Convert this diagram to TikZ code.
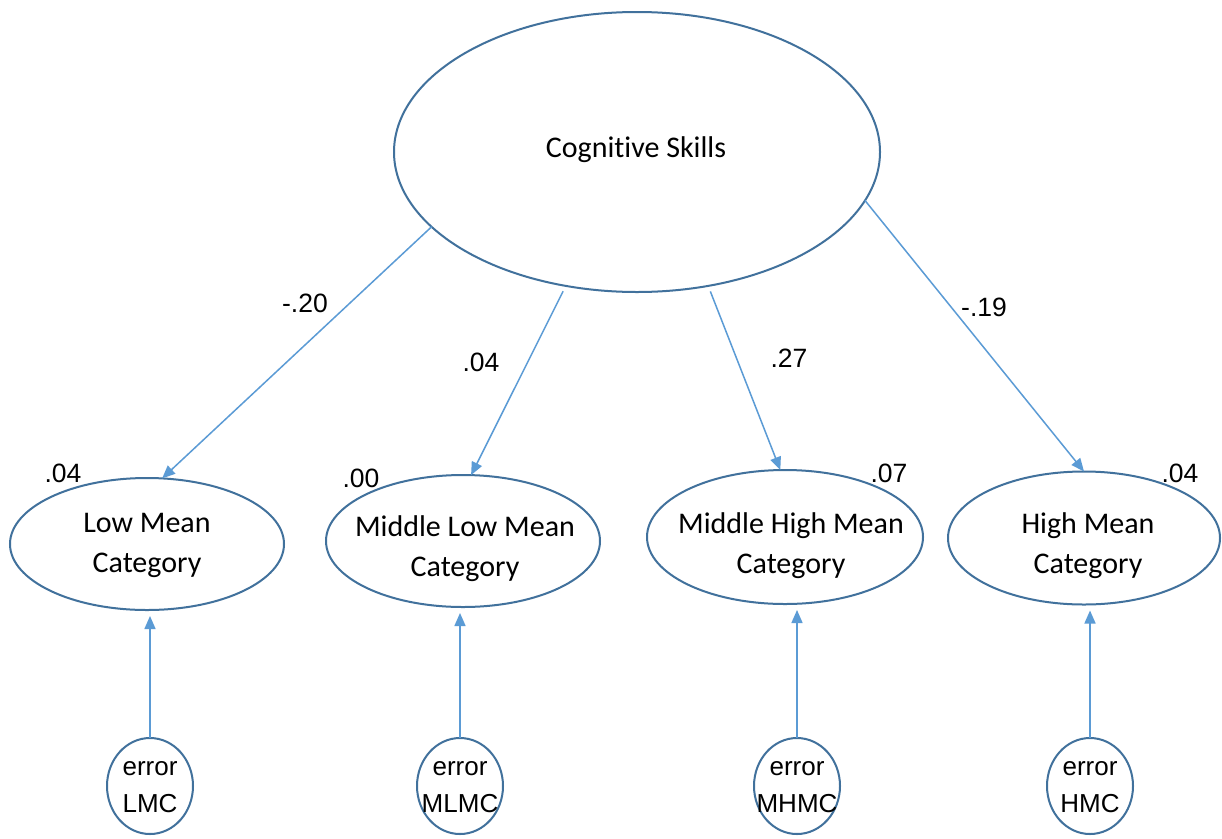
\documentclass[tikz,border=0pt]{standalone}
\usepackage{fontspec}
\setmainfont{Carlito}[Ligatures=NoCommon]
\newfontfamily\numfont{Liberation Sans}
\usetikzlibrary{shapes.geometric,arrows.meta}
\definecolor{edgeblue}{HTML}{41719C}
\definecolor{arrowblue}{HTML}{5B9BD5}
\begin{document}
\begin{tikzpicture}[x=1pt,y=-1pt,
  ell/.style={ellipse,draw=edgeblue,line width=2pt,inner sep=0pt,outer sep=0pt},
  cattext/.style={align=center,font=\fontsize{30}{40}\selectfont,inner sep=0pt},
  num/.style={font=\numfont\fontsize{26.5}{30}\selectfont,inner sep=0pt},
  errtext/.style={align=center,font=\numfont\fontsize{26}{37}\selectfont,inner sep=0pt},
  link/.style={draw=arrowblue,line width=1.5pt,-{Triangle[length=13pt,width=11pt]}}]
\useasboundingbox[fill=white] (0,0) rectangle (1222,838);

% latent variable
\node[ell,minimum width=486pt,minimum height=280pt] (cog) at (637,152) {};
\node[cattext] (cogtxt) at (636,150) {Cognitive Skills};

% indicators
\node[ell,minimum width=274pt,minimum height=132pt] (low) at (147,544) {};
\node[cattext] (lowtxt) at (147,545) {Low Mean\\Category};
\node[ell,minimum width=274pt,minimum height=132pt] (mlow) at (463,541) {};
\node[cattext] (mlowtxt) at (465,549) {Middle Low Mean\\Category};
\node[ell,minimum width=276pt,minimum height=134pt] (mhigh) at (785,537) {};
\node[cattext] (mhightxt) at (791,546) {Middle High Mean\\Category};
\node[ell,minimum width=272pt,minimum height=133pt] (high) at (1084,538) {};
\node[cattext] (hightxt) at (1088,546) {High Mean\\Category};

% errors
\node[ell,minimum width=86pt,minimum height=96pt] (elmc) at (150,786) {};
\node[errtext] (elmctxt) at (150,787) {error\\LMC};
\node[ell,minimum width=86pt,minimum height=96pt] (emlmc) at (460,786) {};
\node[errtext] (emlmctxt) at (460,787) {error\\MLMC};
\node[ell,minimum width=86pt,minimum height=96pt] (emhmc) at (797,786) {};
\node[errtext] (emhmctxt) at (797,787) {error\\MHMC};
\node[ell,minimum width=86pt,minimum height=96pt] (ehmc) at (1090,786) {};
\node[errtext] (ehmctxt) at (1090,787) {error\\HMC};

% loadings
\draw[link] (cog.200) -- (low.77);
\draw[link,shorten <=6pt] (cog.242) -- (mlow.83);
\draw[link,shorten <=6pt] (cog.298) -- (mhigh.94);
\draw[link] (cog.348) -- (high.90);

% error paths
\draw[link,shorten >=6pt] (elmc.north) -- (elmc.north |- low.south);
\draw[link,shorten >=6pt] (emlmc.north) -- (emlmc.north |- mlow.south);
\draw[link,shorten >=6pt] (emhmc.north) -- (emhmc.north |- mhigh.south);
\draw[link,shorten >=6pt] (ehmc.north) -- (ehmc.north |- high.south);

% coefficients
\node[num] (c1) at (305,303) {-.20};
\node[num] (c2) at (481,362) {.04};
\node[num] (c3) at (789,358) {.27};
\node[num] (c4) at (984,307) {-.19};
\node[num] (r1) at (63,473) {.04};
\node[num] (r2) at (361,478) {.00};
\node[num] (r3) at (889,473) {.07};
\node[num] (r4) at (1180,473) {.04};
\end{tikzpicture}
\end{document}
